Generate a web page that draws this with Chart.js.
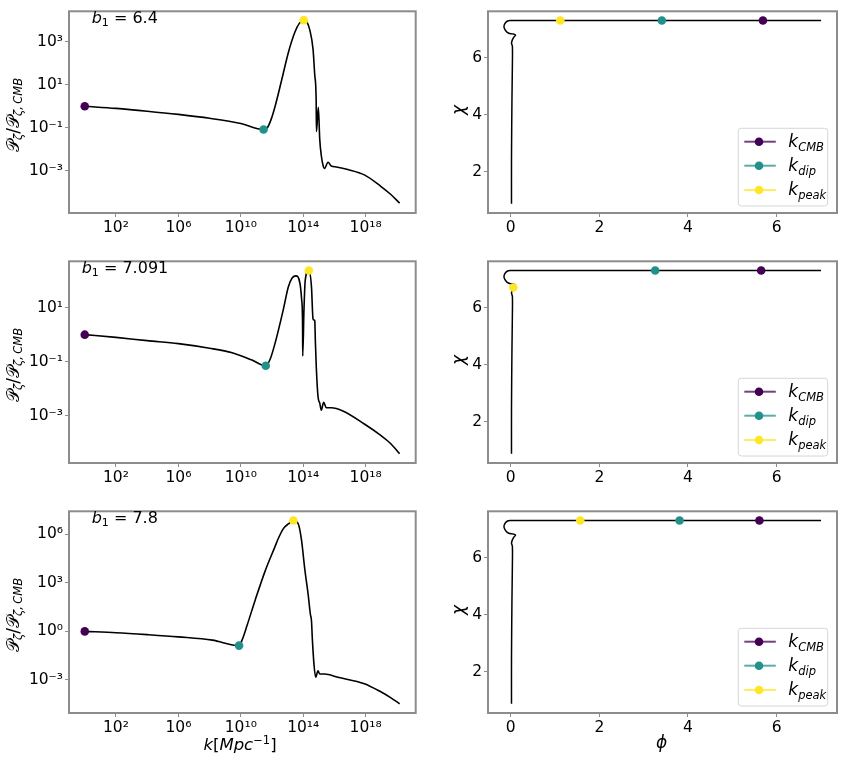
<!DOCTYPE html>
<html>
<head>
<meta charset="utf-8">
<script src="https://cdn.jsdelivr.net/npm/chart.js@4.4.1/dist/chart.umd.min.js"></script>
<style>
body { margin: 0; background: #fff; }
#fig { position: relative; width: 843px; height: 762px; }
canvas { position: absolute; }
</style>
</head>
<body>
<div id="fig">
  <canvas id="l1" width="420" height="250" style="left:0;top:0"></canvas>
  <canvas id="l2" width="420" height="250" style="left:0;top:250px"></canvas>
  <canvas id="l3" width="420" height="262" style="left:0;top:500px"></canvas>
  <canvas id="r1" width="423" height="250" style="left:420px;top:0"></canvas>
  <canvas id="r2" width="423" height="250" style="left:420px;top:250px"></canvas>
  <canvas id="r3" width="423" height="262" style="left:420px;top:500px"></canvas>
</div>
<script>
// power spectra, stored as exponents: log10(k) and log10(P/P_CMB)
const logK1 = [0, 2, 4, 6, 8, 10, 11.46, 11.7, 11.95, 12.2, 12.62, 13.05, 13.47, 13.75, 14.04, 14.25, 14.42, 14.63, 14.74, 14.83, 14.85, 14.97, 15.06, 15.16, 15.27, 15.37, 15.59, 15.8, 16.12, 16.86, 17.92, 18.97, 19.6, 20.18];
const logP1 = [0, -0.1, -0.23, -0.38, -0.56, -0.8, -1.08, -1.0, -0.6, 0.0, 1.22, 2.5, 3.45, 3.85, 4.0, 3.9, 3.55, 2.65, 1.45, 0.3, -1.17, -0.05, -1.54, -2.29, -2.74, -2.89, -2.6, -2.78, -2.82, -2.94, -3.19, -3.72, -4.09, -4.5];

const logK2 = [0, 2, 4, 6, 8, 9.45, 10.72, 11.6, 11.88, 12.2, 12.73, 13.05, 13.3, 13.53, 13.79, 13.9, 13.96, 13.97, 14.05, 14.13, 14.36, 14.53, 14.63, 14.7, 14.74, 14.78, 14.84, 14.95, 15.06, 15.16, 15.31, 15.48, 15.8, 16.54, 17.92, 18.97, 19.6, 20.18];
const logP2 = [0, -0.1, -0.22, -0.33, -0.5, -0.67, -0.94, -1.15, -0.91, -0.31, 0.94, 1.77, 2.1, 2.17, 1.9, 1.3, 0.34, -0.79, 0.94, 2.01, 2.37, 1.77, 0.58, 0.54, 0.52, -0.25, -1.21, -2.29, -2.53, -2.79, -2.5, -2.7, -2.7, -2.82, -3.3, -3.72, -4.02, -4.4];

const logK3 = [0, 2, 4, 6, 8.18, 9.89, 10.08, 10.4, 10.93, 11.57, 12.2, 12.41, 12.73, 13.05, 13.37, 13.68, 13.89, 14.1, 14.32, 14.46, 14.53, 14.59, 14.7, 14.8, 14.95, 15.06, 15.37, 16.22, 17.92, 18.97, 19.6, 20.18];
const logP3 = [0, -0.08, -0.2, -0.34, -0.54, -0.88, -0.54, 0.36, 1.96, 3.76, 5.26, 5.76, 6.36, 6.65, 6.86, 6.66, 5.66, 3.86, 2.26, 1.06, 0.66, -0.54, -2.14, -2.84, -2.44, -2.64, -2.64, -2.84, -3.24, -3.74, -4.1, -4.48];

// marked scales [CMB, dip, peak] per run
const markK = [[0, 11.46, 14.04], [0, 11.6, 14.36], [0, 9.89, 13.37]];
const markP = [[0, -1.08, 4.0], [0, -1.15, 2.37], [0, -0.88, 6.86]];

// field trajectory (phi, chi)
const phi = [7.0, 5.0, 3.0, 1.0, 0.3, 0.1, 0.0, -0.07, -0.13, -0.15, -0.11, -0.04, 0.04, 0.11, 0.07, 0.04, 0.02, 0.04, 0.04, 0.03, 0.02, 0.02];
const chi = [7.30, 7.30, 7.30, 7.30, 7.30, 7.30, 7.30, 7.28, 7.19, 7.07, 6.94, 6.85, 6.83, 6.79, 6.71, 6.62, 6.51, 6.39, 5.77, 4.5, 2.5, 0.88];
const markPhi = [[5.69, 3.41, 1.12], [5.65, 3.26, 0.06], [5.61, 3.81, 1.57]];
const markChi = [[7.30, 7.30, 7.30], [7.30, 7.30, 6.70], [7.30, 7.30, 7.30]];

const b1Values = ['6.4', '7.091', '7.8'];
const markNames = ['CMB', 'dip', 'peak'];
const markColors = ['#440154', '#21918c', '#fde725'];

const kTicks = [2, 6, 10, 14, 18];
const pTicks = [[-3, -1, 1, 3], [-3, -1, 1], [-3, 0, 3, 6]];
const pRange = [[-4.96, 4.41], [-4.74, 2.71], [-5.05, 7.43]];
const kRange = [-1.01, 21.21];
const phiTicks = [0, 2, 4, 6];
const chiTicks = [2, 4, 6];

const FONT = 'DejaVu Sans';
const SUP = {'0':'⁰','1':'¹','2':'²','3':'³','4':'⁴','5':'⁵','6':'⁶','7':'⁷','8':'⁸','9':'⁹','-':'⁻'};
const sup = s => String(s).split('').map(c => SUP[c]).join('');

function fontOf(s) {
  return (s.it ? 'italic ' : '') + s.s + 'px "' + (s.fam || FONT) + '"';
}

function drawRich(ctx, t) {
  ctx.save();
  ctx.translate(t.x, t.y);
  if (t.rot) ctx.rotate(t.rot);
  let w = 0;
  t.segs.forEach(s => { ctx.font = fontOf(s); s.w = ctx.measureText(s.t).width; w += s.w; });
  let cx = t.align === 'center' ? -w / 2 : 0;
  ctx.textBaseline = 'alphabetic';
  ctx.fillStyle = '#000';
  t.segs.forEach(s => { ctx.font = fontOf(s); ctx.fillText(s.t, cx, s.dy || 0); cx += s.w; });
  ctx.restore();
}

function drawLegend(ctx, lg) {
  ctx.save();
  ctx.fillStyle = 'rgba(255,255,255,0.8)';
  ctx.strokeStyle = '#d6d6d6';
  ctx.lineWidth = 1;
  ctx.beginPath();
  ctx.roundRect(lg.x, lg.y, lg.w, lg.h, 3);
  ctx.fill();
  ctx.stroke();
  markNames.forEach((n, i) => {
    const y = lg.rows[i];
    ctx.strokeStyle = markColors[i];
    ctx.globalAlpha = 0.75;
    ctx.lineWidth = 2;
    ctx.beginPath();
    ctx.moveTo(lg.x + 6, y);
    ctx.lineTo(lg.x + 37.5, y);
    ctx.stroke();
    ctx.globalAlpha = 1;
    ctx.fillStyle = markColors[i];
    ctx.beginPath();
    ctx.arc(lg.x + 20.7, y, 4.3, 0, Math.PI * 2);
    ctx.fill();
    drawRich(ctx, {x: lg.x + 50, y: y + 5, segs: [{t: 'k', s: 17, it: 1}, {t: n, s: 11.5, it: 1, dy: 4}]});
  });
  ctx.restore();
}

const deco = {
  id: 'deco',
  afterDraw(chart, args, o) {
    const {ctx, chartArea: a} = chart;
    ctx.save();
    ctx.strokeStyle = '#8c8c8c';
    ctx.lineWidth = 2;
    ctx.strokeRect(a.left, a.top, a.right - a.left, a.bottom - a.top);
    (o.texts || []).forEach(t => drawRich(ctx, t));
    if (o.legend) drawLegend(ctx, o.legend);
    ctx.restore();
  }
};

function setTicks(vals) {
  return scale => { scale.ticks = vals.map(v => ({value: v})); };
}

function axisBase(pos, size, ticksAt, cb) {
  return {
    position: pos,
    grid: {drawOnChartArea: false, drawTicks: true, tickLength: 4, color: '#8c8c8c', lineWidth: 1},
    border: {display: false},
    ticks: {color: '#000', font: {family: FONT, size: 15.5}, padding: 2, maxRotation: 0, autoSkip: false, callback: cb},
    afterBuildTicks: setTicks(ticksAt),
    afterFit: s => { if (pos === 'left') s.width = size; else s.height = size; }
  };
}

function markerSets(xs, ys, conv) {
  return markColors.map((c, i) => ({
    data: [{x: conv(xs[i]), y: conv(ys[i])}],
    pointRadius: 4.3, pointBackgroundColor: c, pointBorderWidth: 0, showLine: false, order: 0
  }));
}

function leftPanel(id, r) {
  const cv = document.getElementById(id);
  const H = cv.height;
  const K = [logK1, logK2, logK3][r];
  const P = [logP1, logP2, logP3][r];
  const pts = K.map((e, i) => ({x: 10 ** e, y: 10 ** P[i]}));
  const expLabel = v => '10' + sup(Math.round(Math.log10(v)));
  const texts = [
    {x: r === 1 ? 81.7 : 91.7, y: 23, segs: [{t: 'b', s: 16, it: 1}, {t: '1', s: 11, dy: 3}, {t: ' = ' + b1Values[r], s: 16}]},
    {x: 19, y: 115, rot: -Math.PI / 2, align: 'center', segs: [
      {t: '𝒫', s: 17}, {t: 'ζ', s: 11.5, it: 1, dy: 3}, {t: '/', s: 17}, {t: '𝒫', s: 17}, {t: 'ζ,\u2009CMB', s: 11.5, it: 1, dy: 3}]}
  ];
  if (r === 2) texts.push({x: 240, y: 250, align: 'center', segs: [
    {t: 'k', s: 16.5, it: 1}, {t: '[', s: 16.5}, {t: 'Mpc', s: 16.5, it: 1}, {t: '−1', s: 11.5, dy: -6}, {t: ']', s: 16.5}]});
  new Chart(cv, {
    type: 'scatter',
    data: {datasets: [
      {data: pts, showLine: true, borderColor: '#000', borderWidth: 1.6, pointRadius: 0, cubicInterpolationMode: 'monotone', order: 1},
      ...markerSets(markK[r], markP[r], e => 10 ** e)
    ]},
    options: {
      responsive: false, animation: false,
      layout: {padding: {left: 0, right: 2, top: 5, bottom: 0}},
      plugins: {legend: {display: false}, tooltip: {enabled: false}, deco: {texts}},
      scales: {
        x: Object.assign(axisBase('bottom', H - 213, kTicks.map(e => 10 ** e), expLabel),
          {type: 'logarithmic', min: 10 ** kRange[0], max: 10 ** kRange[1]}),
        y: Object.assign(axisBase('left', 69, pTicks[r].map(e => 10 ** e), expLabel),
          {type: 'logarithmic', min: 10 ** pRange[r][0], max: 10 ** pRange[r][1]})
      }
    },
    plugins: [deco]
  });
}

function rightPanel(id, r) {
  const cv = document.getElementById(id);
  const H = cv.height;
  const pts = phi.map((p, i) => ({x: p, y: chi[i]}));
  const texts = [{x: 44, y: 110, rot: -Math.PI / 2, align: 'center', segs: [{t: 'χ', s: 17, it: 1}]}];
  if (r === 2) texts.push({x: 241.7, y: 248, align: 'center', segs: [{t: 'ϕ', s: 17, it: 1}]});
  new Chart(cv, {
    type: 'scatter',
    data: {datasets: [
      {data: pts, showLine: true, borderColor: '#000', borderWidth: 1.5, pointRadius: 0, tension: 0.35, order: 1},
      ...markerSets(markPhi[r], markChi[r], v => v)
    ]},
    options: {
      responsive: false, animation: false,
      layout: {padding: {left: 0, right: 6, top: 5, bottom: 0}},
      plugins: {legend: {display: false}, tooltip: {enabled: false},
        deco: {texts, legend: {x: 318.3, y: 128.3, w: 89.4, h: 77.7, rows: [141.7, 165.7, 190]}}},
      scales: {
        x: Object.assign(axisBase('bottom', H - 213, phiTicks, v => v), {type: 'linear', min: -0.51, max: 7.36}),
        y: Object.assign(axisBase('left', 68, chiTicks, v => v), {type: 'linear', min: 0.56, max: 7.62})
      }
    },
    plugins: [deco]
  });
}

leftPanel('l1', 0); leftPanel('l2', 1); leftPanel('l3', 2);
rightPanel('r1', 0); rightPanel('r2', 1); rightPanel('r3', 2);
</script>
</body>
</html>
